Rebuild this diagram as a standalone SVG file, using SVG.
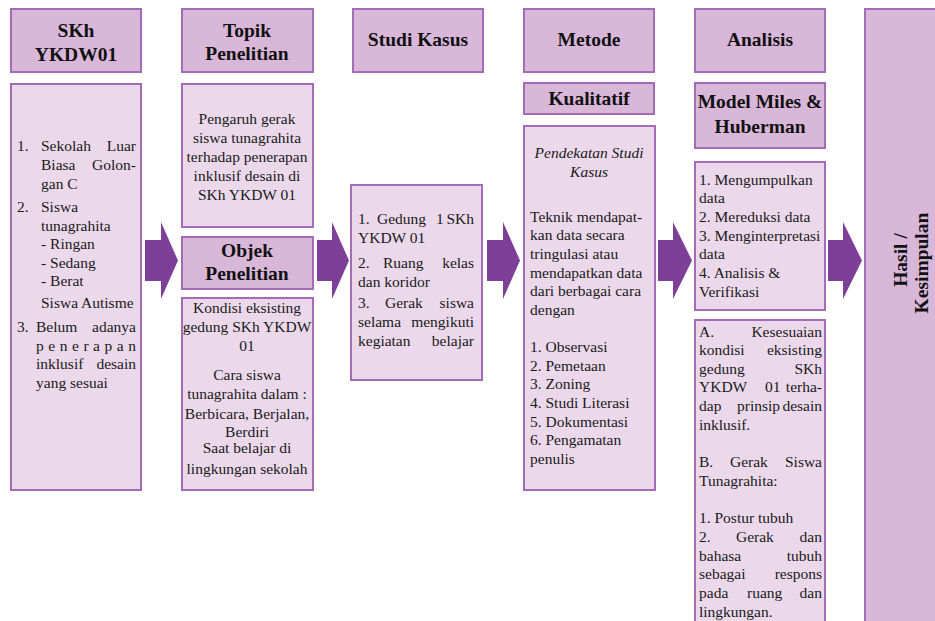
<svg xmlns="http://www.w3.org/2000/svg" width="935" height="621" viewBox="0 0 935 621">
<style>
.hd{fill:#D9B7D9;stroke:#A46CB8;stroke-width:2}
.bx{fill:#EBD9EB;stroke:#A46CB8;stroke-width:2}
.ar{fill:#7E3F98}
.h{font-size:19.5px;font-weight:bold;text-anchor:middle;fill:#111}
.t{font-size:15.5px;fill:#1a1a1a}
.c{text-anchor:middle}
.e{text-anchor:end}
.i{font-style:italic}
</style>
<rect width="935" height="621" fill="#fff"/>

<g id="connectors">
<polygon class="ar" points="145,240 161,240 161,222 178,260.5 161,299 161,281 145,281"/>
<polygon class="ar" points="317,240 332,240 332,222 349,260.5 332,299 332,281 317,281"/>
<polygon class="ar" points="487,240 503,240 503,222 520,260.5 503,299 503,281 487,281"/>
<polygon class="ar" points="658,240 673,240 673,222 692,260.5 673,299 673,281 658,281"/>
<polygon class="ar" points="828,240 843,240 843,222 862,260.5 843,299 843,281 828,281"/>
</g>

<g id="skh-header">
<rect class="hd" x="11" y="9" width="130" height="63"/>
<text font-family="Liberation Serif" class="h" x="76" y="37">SKh</text>
<text font-family="Liberation Serif" class="h" x="76" y="61">YKDW01</text>
</g>
<g id="skh-content">
<rect class="bx" x="11" y="84" width="130" height="406"/>
<text font-family="Liberation Serif" class="t" x="17" y="151">1.</text>
<text font-family="Liberation Serif" class="t" x="41" y="151">Sekolah</text>
<text font-family="Liberation Serif" class="t e" x="136" y="151">Luar</text>
<text font-family="Liberation Serif" class="t" x="41" y="170">Biasa</text>
<text font-family="Liberation Serif" class="t e" x="136" y="170">Golon-</text>
<text font-family="Liberation Serif" class="t" x="41" y="189">gan C</text>
<text font-family="Liberation Serif" class="t" x="17" y="212">2.</text>
<text font-family="Liberation Serif" class="t" x="41" y="212">Siswa</text>
<text font-family="Liberation Serif" class="t" x="41" y="231">tunagrahita</text>
<text font-family="Liberation Serif" class="t" x="41" y="249">- Ringan</text>
<text font-family="Liberation Serif" class="t" x="41" y="268">- Sedang</text>
<text font-family="Liberation Serif" class="t" x="41" y="286">- Berat</text>
<text font-family="Liberation Serif" class="t" x="41" y="308">Siswa Autisme</text>
<text font-family="Liberation Serif" class="t" x="17" y="332">3.</text>
<text font-family="Liberation Serif" class="t" x="36" y="332">Belum</text>
<text font-family="Liberation Serif" class="t e" x="136" y="332">adanya</text>
<text font-family="Liberation Serif" class="t" x="36" y="351" textLength="100" lengthAdjust="spacing">penerapan</text>
<text font-family="Liberation Serif" class="t" x="36" y="369">inklusif</text>
<text font-family="Liberation Serif" class="t e" x="136" y="369">desain</text>
<text font-family="Liberation Serif" class="t" x="36" y="388">yang sesuai</text>
</g>

<g id="topik-header">
<rect class="hd" x="182" y="9" width="131" height="63"/>
<text font-family="Liberation Serif" class="h" x="247" y="37">Topik</text>
<text font-family="Liberation Serif" class="h" x="247" y="60">Penelitian</text>
</g>
<g id="topik-content">
<rect class="bx" x="182" y="84" width="131" height="143"/>
<text font-family="Liberation Serif" class="t c" x="247" y="124">Pengaruh gerak</text>
<text font-family="Liberation Serif" class="t c" x="247" y="143">siswa tunagrahita</text>
<text font-family="Liberation Serif" class="t c" x="247" y="162">terhadap penerapan</text>
<text font-family="Liberation Serif" class="t c" x="247" y="181">inklusif desain di</text>
<text font-family="Liberation Serif" class="t c" x="247" y="200">SKh YKDW 01</text>
</g>
<g id="objek-header">
<rect class="hd" x="182" y="237" width="131" height="52"/>
<text font-family="Liberation Serif" class="h" x="247" y="257">Objek</text>
<text font-family="Liberation Serif" class="h" x="247" y="280">Penelitian</text>
</g>
<g id="objek-content">
<rect class="bx" x="182" y="298" width="131" height="192"/>
<text font-family="Liberation Serif" class="t c" x="247" y="313">Kondisi eksisting</text>
<text font-family="Liberation Serif" class="t c" x="247" y="332">gedung SKh YKDW</text>
<text font-family="Liberation Serif" class="t c" x="247" y="351">01</text>
<text font-family="Liberation Serif" class="t c" x="247" y="380">Cara siswa</text>
<text font-family="Liberation Serif" class="t c" x="247" y="399">tunagrahita dalam :</text>
<text font-family="Liberation Serif" class="t c" x="247" y="419">Berbicara, Berjalan,</text>
<text font-family="Liberation Serif" class="t c" x="247" y="437">Berdiri</text>
<text font-family="Liberation Serif" class="t c" x="247" y="453">Saat belajar di</text>
<text font-family="Liberation Serif" class="t c" x="247" y="474">lingkungan sekolah</text>
</g>

<g id="studi-header">
<rect class="hd" x="353" y="9" width="130" height="63"/>
<text font-family="Liberation Serif" class="h" x="418" y="46">Studi Kasus</text>
</g>
<g id="studi-content">
<rect class="bx" x="351" y="185" width="131" height="195"/>
<text font-family="Liberation Serif" class="t" x="358" y="224">1.</text>
<text font-family="Liberation Serif" class="t" x="377" y="224">Gedung</text>
<text font-family="Liberation Serif" class="t" x="436" y="224">1</text>
<text font-family="Liberation Serif" class="t e" x="474" y="224">SKh</text>
<text font-family="Liberation Serif" class="t" x="358" y="243">YKDW 01</text>
<text font-family="Liberation Serif" class="t" x="358" y="268">2.</text>
<text font-family="Liberation Serif" class="t" x="383" y="268">Ruang</text>
<text font-family="Liberation Serif" class="t e" x="474" y="268">kelas</text>
<text font-family="Liberation Serif" class="t" x="358" y="287">dan koridor</text>
<text font-family="Liberation Serif" class="t" x="358" y="308">3.</text>
<text font-family="Liberation Serif" class="t" x="385" y="308">Gerak</text>
<text font-family="Liberation Serif" class="t e" x="474" y="308">siswa</text>
<text font-family="Liberation Serif" class="t" x="358" y="327">selama</text>
<text font-family="Liberation Serif" class="t e" x="474" y="327">mengikuti</text>
<text font-family="Liberation Serif" class="t" x="358" y="346">kegiatan</text>
<text font-family="Liberation Serif" class="t e" x="474" y="346">belajar</text>
</g>

<g id="metode-header">
<rect class="hd" x="524" y="9" width="130" height="63"/>
<text font-family="Liberation Serif" class="h" x="589" y="46">Metode</text>
</g>
<g id="kualitatif">
<rect class="hd" x="524" y="83" width="130" height="31"/>
<text font-family="Liberation Serif" class="h" x="589" y="105">Kualitatif</text>
</g>
<g id="metode-content">
<rect class="bx" x="524" y="126" width="131" height="364"/>
<text font-family="Liberation Serif" class="t c i" x="589" y="158">Pendekatan Studi</text>
<text font-family="Liberation Serif" class="t c i" x="589" y="177">Kasus</text>
<text font-family="Liberation Serif" class="t" x="530" y="222">Teknik mendapat-</text>
<text font-family="Liberation Serif" class="t" x="530" y="240">kan data secara</text>
<text font-family="Liberation Serif" class="t" x="530" y="259">tringulasi atau</text>
<text font-family="Liberation Serif" class="t" x="530" y="278">mendapatkan data</text>
<text font-family="Liberation Serif" class="t" x="530" y="296">dari berbagai cara</text>
<text font-family="Liberation Serif" class="t" x="530" y="315">dengan</text>
<text font-family="Liberation Serif" class="t" x="530" y="352">1. Observasi</text>
<text font-family="Liberation Serif" class="t" x="530" y="371">2. Pemetaan</text>
<text font-family="Liberation Serif" class="t" x="530" y="389">3. Zoning</text>
<text font-family="Liberation Serif" class="t" x="530" y="408">4. Studi Literasi</text>
<text font-family="Liberation Serif" class="t" x="530" y="427">5. Dokumentasi</text>
<text font-family="Liberation Serif" class="t" x="530" y="445">6. Pengamatan</text>
<text font-family="Liberation Serif" class="t" x="530" y="464">penulis</text>
</g>

<g id="analisis-header">
<rect class="hd" x="695" y="9" width="130" height="63"/>
<text font-family="Liberation Serif" class="h" x="760" y="46">Analisis</text>
</g>
<g id="model-miles">
<rect class="hd" x="695" y="83" width="130" height="65"/>
<text font-family="Liberation Serif" class="h" x="760" y="108">Model Miles &amp;</text>
<text font-family="Liberation Serif" class="h" x="760" y="133">Huberman</text>
</g>
<g id="analisis-list">
<rect class="bx" x="695" y="162" width="130" height="148"/>
<text font-family="Liberation Serif" class="t" x="699" y="185">1. Mengumpulkan</text>
<text font-family="Liberation Serif" class="t" x="699" y="203">data</text>
<text font-family="Liberation Serif" class="t" x="699" y="222">2. Mereduksi data</text>
<text font-family="Liberation Serif" class="t" x="699" y="241">3. Menginterpretasi</text>
<text font-family="Liberation Serif" class="t" x="699" y="259">data</text>
<text font-family="Liberation Serif" class="t" x="699" y="278">4. Analisis &amp;</text>
<text font-family="Liberation Serif" class="t" x="699" y="297">Verifikasi</text>
</g>
<g id="analisis-result">
<rect class="bx" x="695" y="320" width="130" height="310"/>
<text font-family="Liberation Serif" class="t" x="699" y="337">A.</text>
<text font-family="Liberation Serif" class="t e" x="822" y="337">Kesesuaian</text>
<text font-family="Liberation Serif" class="t" x="699" y="355">kondisi</text>
<text font-family="Liberation Serif" class="t e" x="822" y="355">eksisting</text>
<text font-family="Liberation Serif" class="t" x="699" y="374">gedung</text>
<text font-family="Liberation Serif" class="t e" x="822" y="374">SKh</text>
<text font-family="Liberation Serif" class="t" x="699" y="392">YKDW</text>
<text font-family="Liberation Serif" class="t" x="765" y="392">01</text>
<text font-family="Liberation Serif" class="t e" x="822" y="392">terha-</text>
<text font-family="Liberation Serif" class="t" x="699" y="411">dap</text>
<text font-family="Liberation Serif" class="t" x="737" y="411">prinsip</text>
<text font-family="Liberation Serif" class="t e" x="822" y="411">desain</text>
<text font-family="Liberation Serif" class="t" x="699" y="430">inklusif.</text>
<text font-family="Liberation Serif" class="t" x="699" y="467">B.</text>
<text font-family="Liberation Serif" class="t" x="730" y="467">Gerak</text>
<text font-family="Liberation Serif" class="t e" x="822" y="467">Siswa</text>
<text font-family="Liberation Serif" class="t" x="699" y="486">Tunagrahita:</text>
<text font-family="Liberation Serif" class="t" x="699" y="523">1. Postur tubuh</text>
<text font-family="Liberation Serif" class="t" x="699" y="542">2.</text>
<text font-family="Liberation Serif" class="t" x="736" y="542">Gerak</text>
<text font-family="Liberation Serif" class="t e" x="822" y="542">dan</text>
<text font-family="Liberation Serif" class="t" x="699" y="561">bahasa</text>
<text font-family="Liberation Serif" class="t e" x="822" y="561">tubuh</text>
<text font-family="Liberation Serif" class="t" x="699" y="579">sebagai</text>
<text font-family="Liberation Serif" class="t e" x="822" y="579">respons</text>
<text font-family="Liberation Serif" class="t" x="699" y="598">pada</text>
<text font-family="Liberation Serif" class="t" x="747" y="598">ruang</text>
<text font-family="Liberation Serif" class="t e" x="822" y="598">dan</text>
<text font-family="Liberation Serif" class="t" x="699" y="617">lingkungan.</text>
</g>

<g id="hasil">
<rect class="hd" x="865" y="9" width="80" height="630"/>
<text font-family="Liberation Serif" class="h" transform="translate(907,260) rotate(-90)">Hasil /</text>
<text font-family="Liberation Serif" class="h" transform="translate(928,263) rotate(-90)">Kesimpulan</text>
</g>
</svg>
